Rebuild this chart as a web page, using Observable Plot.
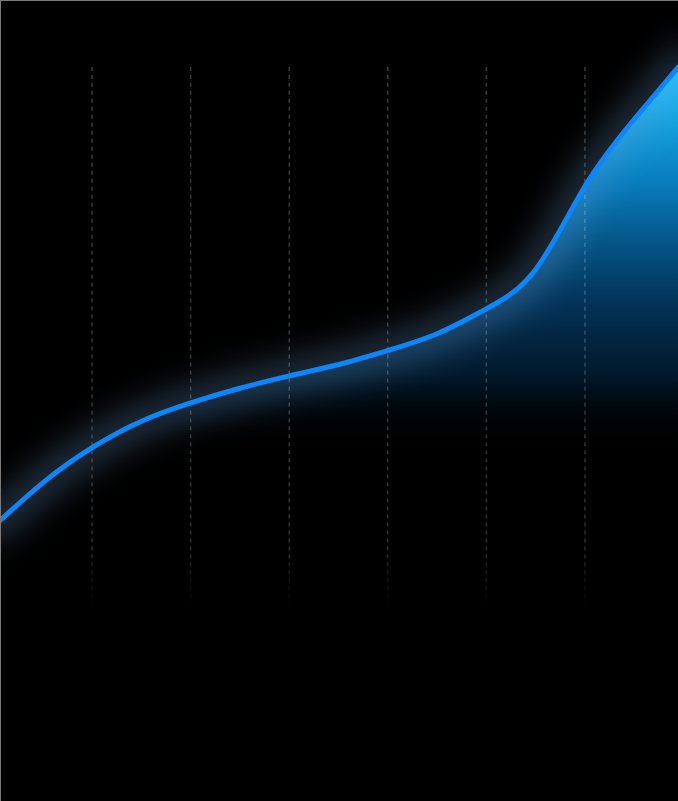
<!DOCTYPE html>
<html>
<head>
<meta charset="utf-8">
<script src="https://cdn.jsdelivr.net/npm/d3@7"></script>
<script src="https://cdn.jsdelivr.net/npm/@observablehq/plot@0.6"></script>
<style>
  html, body { margin: 0; padding: 0; background: #000; overflow: hidden; }
  #chart { width: 677px; height: 800px; border-left: 1px solid #7a7a7a; border-top: 1px solid #7a7a7a; overflow: hidden; background: #000; }
  #chart svg { display: block; background: #000; }
</style>
</head>
<body>
<div id="chart"></div>
<script>
// Data
const xValues = [0, 0.5, 1, 1.5, 2, 2.5, 3, 3.5, 4, 4.5, 5, 5.5, 6, 6.5, 7];
const yValues = [15.0, 23.1, 29.6, 34.5, 37.9, 40.6, 42.9, 45.0, 47.6, 50.7, 55.3, 62.6, 78.0, 90.4, 101.2];
const gridTicks = [1, 2, 3, 4, 5, 6];

const data = xValues.map((x, i) => ({x, y: yValues[i]}));

const svg = Plot.plot({
  width: 678,
  height: 801,
  marginTop: 66,
  marginBottom: 194,
  marginLeft: 0,
  marginRight: 0,
  style: {background: "#000"},
  x: {domain: [0, 7], range: [-8, 683], axis: null},
  y: {domain: [0, 100], axis: null},
  marks: [
    Plot.areaY(data, {x: "x", y: "y", curve: "natural", fill: "url(#areaGrad)"}),
    Plot.line(data, {x: "x", y: "y", curve: "natural", stroke: "#6fa9e2", strokeWidth: 32, strokeOpacity: 0.3}),
    Plot.ruleX(gridTicks, {x: d => d, stroke: "url(#gridGrad)", strokeWidth: 1.5, strokeDasharray: "4,4"}),
    Plot.line(data, {x: "x", y: "y", curve: "natural", stroke: "#0a86ff", strokeWidth: 5})
  ]
});

const s = d3.select(svg);
const defs = s.insert("defs", ":first-child");

const ag = defs.append("linearGradient").attr("id", "areaGrad")
  .attr("gradientUnits", "userSpaceOnUse")
  .attr("x1", 0).attr("x2", 0).attr("y1", 70).attr("y2", 450);
[[0, "#1fc0fa", 1], [0.3, "#0886cc", 0.92], [0.6, "#04477a", 0.75], [0.8, "#022a4a", 0.6], [1, "#000000", 0]]
  .forEach(([o, c, a]) => ag.append("stop").attr("offset", o).attr("stop-color", c).attr("stop-opacity", a));

const gg = defs.append("linearGradient").attr("id", "gridGrad")
  .attr("gradientUnits", "userSpaceOnUse")
  .attr("x1", 0).attr("x2", 0).attr("y1", 66).attr("y2", 607);
[[0, "#ffffff", 0.22], [0.88, "#ffffff", 0.18], [1, "#ffffff", 0]]
  .forEach(([o, c, a]) => gg.append("stop").attr("offset", o).attr("stop-color", c).attr("stop-opacity", a));

const f = defs.append("filter").attr("id", "glow")
  .attr("filterUnits", "userSpaceOnUse")
  .attr("x", -100).attr("y", -100).attr("width", 900).attr("height", 1000);
f.append("feGaussianBlur").attr("stdDeviation", 16);

const lines = s.selectAll('g[aria-label="line"]').nodes();
if (lines.length) d3.select(lines[0]).attr("filter", "url(#glow)");

document.getElementById("chart").appendChild(svg);
</script>
</body>
</html>
